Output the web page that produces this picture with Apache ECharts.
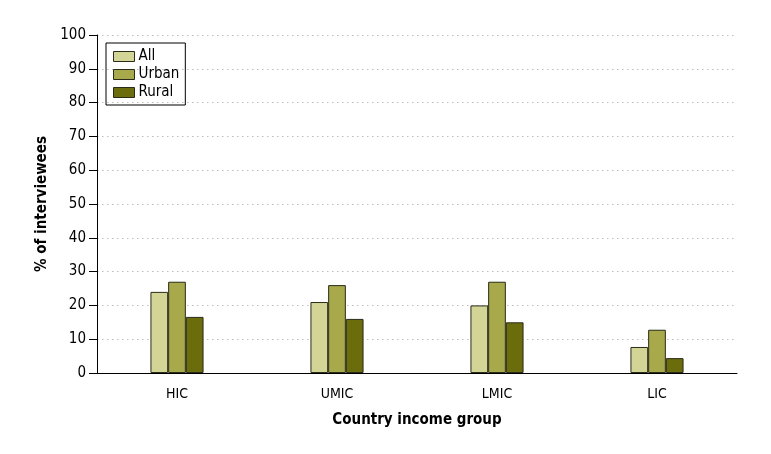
<!DOCTYPE html>
<html>
<head>
<meta charset="utf-8">
<script src="https://cdn.jsdelivr.net/npm/echarts@6/dist/echarts.min.js"></script>
<style>
  html, body { margin: 0; padding: 0; background: #fff; }
  #chart { width: 771px; height: 454px; }
</style>
</head>
<body>
<div id="chart"></div>
<script>
var categories = ['HIC', 'UMIC', 'LMIC', 'LIC'];
var allValues = [24, 21, 20, 7.7];
var urbanValues = [27, 26, 27, 12.8];
var ruralValues = [16.6, 16, 15, 4.4];

var font = '"DejaVu Sans Condensed", "Liberation Sans Narrow", sans-serif';
var chart = echarts.init(document.getElementById('chart'));

function barSeries(name, data, color) {
  return {
    name: name,
    type: 'bar',
    data: data,
    barWidth: 17.7,
    barGap: '0%',
    itemStyle: { color: color, borderColor: '#2b2b1a', borderWidth: 1 }
  };
}

var option = {
  animation: false,
  textStyle: { fontFamily: font },
  grid: { left: 97, right: 34, top: 35, bottom: 81 },
  legend: {
    left: 106, top: 43,
    orient: 'vertical',
    icon: 'rect',
    borderColor: '#000', borderWidth: 1,
    padding: [6, 6, 5, 7],
    itemGap: 3,
    itemWidth: 21, itemHeight: 10,
    itemStyle: { borderColor: '#2b2b1a', borderWidth: 1 },
    textStyle: { fontSize: 15, lineHeight: 15, color: '#000', fontFamily: font, padding: [0, 0, 0, -1] },
    data: ['All', 'Urban', 'Rural']
  },
  xAxis: {
    type: 'category',
    data: categories,
    name: 'Country income group',
    nameLocation: 'middle',
    nameGap: 40,
    nameTextStyle: { fontSize: 15, fontWeight: 'bold', color: '#000', fontFamily: font },
    axisLine: { lineStyle: { color: '#000', width: 1 } },
    axisTick: { length: 8, lineStyle: { color: '#000' } },
    axisLabel: { fontSize: 14, color: '#000', margin: 14 }
  },
  yAxis: {
    type: 'value',
    min: 0, max: 100, interval: 10,
    name: '% of interviewees',
    nameLocation: 'middle',
    nameGap: 45,
    nameTextStyle: { fontSize: 15, fontWeight: 'bold', color: '#000', fontFamily: font },
    axisLine: { show: true, lineStyle: { color: '#000', width: 1 } },
    axisTick: { show: true, length: 8, lineStyle: { color: '#000' } },
    axisLabel: { fontSize: 15, color: '#000', margin: 11 },
    splitLine: { show: true, lineStyle: { type: [1.5, 3.5], color: '#bdbdbd', width: 1.2 } }
  },
  series: [
    barSeries('All', allValues, '#d3d596'),
    barSeries('Urban', urbanValues, '#a8a94b'),
    barSeries('Rural', ruralValues, '#6b6d0c')
  ]
};

chart.setOption(option);
window.addEventListener('resize', function () { chart.resize(); });
</script>
</body>
</html>
